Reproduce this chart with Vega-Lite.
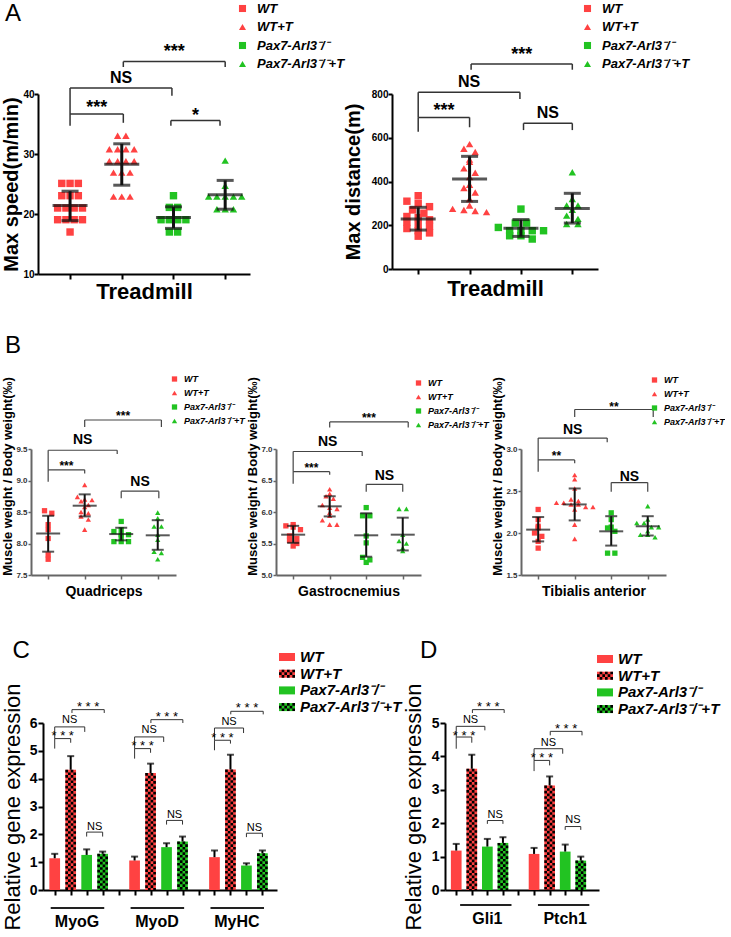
{
"$schema": "https://vega.github.io/schema/vega-lite/v6.json",
"padding": {"left": 1, "top": 2, "right": 0, "bottom": 0},
"background": "white",
"config": {"view": {"stroke": null}, "font": "Liberation Sans",
  "axis": {"grid": false, "domainColor": "#000", "tickColor": "#000", "labelColor": "#000", "titleColor": "#000", "labelFont": "Liberation Sans", "titleFont": "Liberation Sans", "labelOverlap": false},
  "legend": {"labelLimit": 0, "labelColor": "#000", "labelFont": "Liberation Sans"},
  "text": {"font": "Liberation Sans", "color": "#000"}},
"bounds": "flush",
"spacing": 355,
"resolve": {"scale": {"color": "independent", "shape": "independent"}, "legend": {"color": "independent", "shape": "independent"}},
"datasets": {
"a1": [{"grp":"WT","v":25.1},{"grp":"WT","v":25.1},{"grp":"WT","v":25.1},{"grp":"WT","v":23.05},{"grp":"WT","v":23.05},{"grp":"WT","v":23.05},{"grp":"WT","v":21.0},{"grp":"WT","v":21.0},{"grp":"WT","v":21.0},{"grp":"WT","v":21.0},{"grp":"WT","v":19.05},{"grp":"WT","v":19.05},{"grp":"WT","v":19.05},{"grp":"WT","v":19.05},{"grp":"WT","v":17.0},
{"grp":"WTT","v":33.05},{"grp":"WTT","v":33.05},{"grp":"WTT","v":30.8},{"grp":"WTT","v":30.8},{"grp":"WTT","v":30.8},{"grp":"WTT","v":30.8},{"grp":"WTT","v":28.8},{"grp":"WTT","v":28.8},{"grp":"WTT","v":28.8},{"grp":"WTT","v":28.8},{"grp":"WTT","v":26.9},{"grp":"WTT","v":26.9},{"grp":"WTT","v":26.9},{"grp":"WTT","v":22.9},{"grp":"WTT","v":22.9},{"grp":"WTT","v":22.9},
{"grp":"KO","v":23.05},{"grp":"KO","v":21.1},{"grp":"KO","v":21.1},{"grp":"KO","v":19.05},{"grp":"KO","v":19.05},{"grp":"KO","v":19.05},{"grp":"KO","v":19.05},{"grp":"KO","v":17.0},{"grp":"KO","v":17.0},
{"grp":"KOT","v":28.9},{"grp":"KOT","v":24.7},{"grp":"KOT","v":22.9},{"grp":"KOT","v":22.9},{"grp":"KOT","v":22.9},{"grp":"KOT","v":22.9},{"grp":"KOT","v":22.9},{"grp":"KOT","v":20.8},{"grp":"KOT","v":20.8},{"grp":"KOT","v":20.8}],
"a1s": [{"grp":"WT","m":21.4,"lo":18.9,"hi":23.8},{"grp":"WTT","m":28.3,"lo":24.8,"hi":31.7},{"grp":"KO","m":19.4,"lo":17.6,"hi":21.2},{"grp":"KOT","m":23.2,"lo":20.8,"hi":25.6}],
"a1b": [{"x1":1,"x2":2.03,"y":36.67,"yl":34.7,"yr":35.2,"t":"***","ty":38.3},{"x1":1,"x2":2.97,"y":41.0,"yl":36.67,"yr":39.7,"t":"NS","ty":42.6},{"x1":2.03,"x2":4.0,"y":45.4,"yl":44.5,"yr":44.5,"t":"***","ty":47.6},{"x1":2.95,"x2":3.9,"y":35.6,"yl":34.7,"yr":34.7,"t":"*","ty":37.0}],
"a2": [{"grp":"WT","v":335},{"grp":"WT","v":310},{"grp":"WT","v":300},{"grp":"WT","v":285},{"grp":"WT","v":270},{"grp":"WT","v":255},{"grp":"WT","v":240},{"grp":"WT","v":235},{"grp":"WT","v":225},{"grp":"WT","v":215},{"grp":"WT","v":205},{"grp":"WT","v":195},{"grp":"WT","v":185},{"grp":"WT","v":175},{"grp":"WT","v":165},{"grp":"WT","v":150},
{"grp":"WTT","v":571},{"grp":"WTT","v":550},{"grp":"WTT","v":535},{"grp":"WTT","v":500},{"grp":"WTT","v":490},{"grp":"WTT","v":460},{"grp":"WTT","v":440},{"grp":"WTT","v":420},{"grp":"WTT","v":385},{"grp":"WTT","v":370},{"grp":"WTT","v":350},{"grp":"WTT","v":320},{"grp":"WTT","v":290},{"grp":"WTT","v":275},{"grp":"WTT","v":270},{"grp":"WTT","v":265},{"grp":"WTT","v":260},
{"grp":"KO","v":274},{"grp":"KO","v":210},{"grp":"KO","v":210},{"grp":"KO","v":190},{"grp":"KO","v":175},{"grp":"KO","v":175},{"grp":"KO","v":175},{"grp":"KO","v":175},{"grp":"KO","v":152},{"grp":"KO","v":152},{"grp":"KO","v":137},
{"grp":"KOT","v":442},{"grp":"KOT","v":320},{"grp":"KOT","v":290},{"grp":"KOT","v":290},{"grp":"KOT","v":271},{"grp":"KOT","v":244},{"grp":"KOT","v":229},{"grp":"KOT","v":206},{"grp":"KOT","v":206}],
"a2s": [{"grp":"WT","m":229,"lo":178,"hi":282},{"grp":"WTT","m":411,"lo":309,"hi":515},{"grp":"KO","m":186,"lo":149,"hi":226},{"grp":"KOT","m":277,"lo":210,"hi":346}],
"a2b": [{"x1":1,"x2":2.0,"y":693,"yl":628,"yr":648,"t":"***","ty":739},{"x1":1,"x2":2.98,"y":808,"yl":693,"yr":777,"t":"NS","ty":853},{"x1":2.03,"x2":4.0,"y":937,"yl":911,"yr":911,"t":"***","ty":998},{"x1":3.05,"x2":4.0,"y":666,"yl":635,"yr":635,"t":"NS","ty":713}],
"b1": [{"grp":"WT","v":8.52},{"grp":"WT","v":8.48},{"grp":"WT","v":8.30},{"grp":"WT","v":8.22},{"grp":"WT","v":8.08},{"grp":"WT","v":7.82},{"grp":"WT","v":7.75},
{"grp":"WTT","v":8.93},{"grp":"WTT","v":8.74},{"grp":"WTT","v":8.70},{"grp":"WTT","v":8.69},{"grp":"WTT","v":8.67},{"grp":"WTT","v":8.61},{"grp":"WTT","v":8.58},{"grp":"WTT","v":8.50},{"grp":"WTT","v":8.48},{"grp":"WTT","v":8.43},{"grp":"WTT","v":8.38},{"grp":"WTT","v":8.22},
{"grp":"KO","v":8.35},{"grp":"KO","v":8.22},{"grp":"KO","v":8.19},{"grp":"KO","v":8.14},{"grp":"KO","v":8.14},{"grp":"KO","v":8.11},{"grp":"KO","v":8.03},{"grp":"KO","v":8.03},{"grp":"KO","v":8.03},
{"grp":"KOT","v":8.49},{"grp":"KOT","v":8.40},{"grp":"KOT","v":8.27},{"grp":"KOT","v":8.27},{"grp":"KOT","v":8.14},{"grp":"KOT","v":8.06},{"grp":"KOT","v":7.87},{"grp":"KOT","v":7.85},{"grp":"KOT","v":7.75}],
"b1s": [{"grp":"WT","m":8.16,"lo":7.87,"hi":8.44},{"grp":"WTT","m":8.60,"lo":8.43,"hi":8.78},{"grp":"KO","m":8.15,"lo":8.05,"hi":8.25},{"grp":"KOT","m":8.13,"lo":7.90,"hi":8.37}],
"b1b": [{"x1":1,"x2":2,"y":9.17,"yl":8.98,"yr":9.11,"t":"***","ty":9.28},{"x1":1,"x2":2.89,"y":9.48,"yl":9.17,"yr":9.42,"t":"NS","ty":9.64},{"x1":2,"x2":4.1,"y":9.96,"yl":9.85,"yr":9.85,"t":"***","ty":10.07},{"x1":3,"x2":4.03,"y":8.83,"yl":8.72,"yr":8.72,"t":"NS","ty":8.97}],
"b2": [{"grp":"WT","v":5.80},{"grp":"WT","v":5.78},{"grp":"WT","v":5.76},{"grp":"WT","v":5.72},{"grp":"WT","v":5.62},{"grp":"WT","v":5.58},{"grp":"WT","v":5.55},{"grp":"WT","v":5.50},{"grp":"WT","v":5.46},
{"grp":"WTT","v":6.36},{"grp":"WTT","v":6.29},{"grp":"WTT","v":6.25},{"grp":"WTT","v":6.21},{"grp":"WTT","v":6.11},{"grp":"WTT","v":6.07},{"grp":"WTT","v":6.05},{"grp":"WTT","v":5.99},{"grp":"WTT","v":5.94},{"grp":"WTT","v":5.87},{"grp":"WTT","v":5.80},{"grp":"WTT","v":5.80},
{"grp":"KO","v":6.07},{"grp":"KO","v":5.94},{"grp":"KO","v":5.94},{"grp":"KO","v":5.62},{"grp":"KO","v":5.51},{"grp":"KO","v":5.28},{"grp":"KO","v":5.24},{"grp":"KO","v":5.20},
{"grp":"KOT","v":6.05},{"grp":"KOT","v":6.05},{"grp":"KOT","v":5.64},{"grp":"KOT","v":5.54},{"grp":"KOT","v":5.50},{"grp":"KOT","v":5.43},{"grp":"KOT","v":5.38}],
"b2s": [{"grp":"WT","m":5.64,"lo":5.51,"hi":5.78},{"grp":"WTT","m":6.09,"lo":5.93,"hi":6.25},{"grp":"KO","m":5.63,"lo":5.29,"hi":5.98},{"grp":"KOT","m":5.64,"lo":5.39,"hi":5.91}],
"b2b": [{"x1":1,"x2":2,"y":6.64,"yl":6.45,"yr":6.59,"t":"***","ty":6.75},{"x1":1,"x2":2.89,"y":6.96,"yl":6.64,"yr":6.89,"t":"NS","ty":7.11},{"x1":2,"x2":4.15,"y":7.43,"yl":7.34,"yr":7.34,"t":"***","ty":7.54},{"x1":3,"x2":4.0,"y":6.44,"yl":6.32,"yr":6.32,"t":"NS","ty":6.57}],
"b3": [{"grp":"WT","v":2.28},{"grp":"WT","v":2.16},{"grp":"WT","v":2.08},{"grp":"WT","v":2.06},{"grp":"WT","v":2.00},{"grp":"WT","v":1.96},{"grp":"WT","v":1.90},{"grp":"WT","v":1.82},
{"grp":"WTT","v":2.69},{"grp":"WTT","v":2.64},{"grp":"WTT","v":2.53},{"grp":"WTT","v":2.40},{"grp":"WTT","v":2.38},{"grp":"WTT","v":2.36},{"grp":"WTT","v":2.36},{"grp":"WTT","v":2.34},{"grp":"WTT","v":2.34},{"grp":"WTT","v":2.31},{"grp":"WTT","v":2.31},{"grp":"WTT","v":2.28},{"grp":"WTT","v":2.10},{"grp":"WTT","v":1.93},
{"grp":"KO","v":2.24},{"grp":"KO","v":2.16},{"grp":"KO","v":2.07},{"grp":"KO","v":2.06},{"grp":"KO","v":2.02},{"grp":"KO","v":1.76},{"grp":"KO","v":1.76},
{"grp":"KOT","v":2.32},{"grp":"KOT","v":2.16},{"grp":"KOT","v":2.12},{"grp":"KOT","v":2.12},{"grp":"KOT","v":2.07},{"grp":"KOT","v":2.07},{"grp":"KOT","v":2.02},{"grp":"KOT","v":1.98},{"grp":"KOT","v":1.98},{"grp":"KOT","v":1.95}],
"b3s": [{"grp":"WT","m":2.04,"lo":1.90,"hi":2.19},{"grp":"WTT","m":2.34,"lo":2.15,"hi":2.53},{"grp":"KO","m":2.02,"lo":1.85,"hi":2.20},{"grp":"KOT","m":2.08,"lo":1.97,"hi":2.20}],
"b3b": [{"x1":1,"x2":2,"y":2.87,"yl":2.73,"yr":2.83,"t":"**","ty":2.95},{"x1":1,"x2":2.89,"y":3.13,"yl":2.87,"yr":3.08,"t":"NS","ty":3.23},{"x1":2,"x2":4.15,"y":3.47,"yl":3.38,"yr":3.38,"t":"**","ty":3.54},{"x1":3,"x2":4.0,"y":2.60,"yl":2.49,"yr":2.49,"t":"NS","ty":2.67}],
"c": [{"gene":"MyoG","grp":"WT","v":1.14,"e":1.30},{"gene":"MyoG","grp":"WTT","v":4.32,"e":4.81},{"gene":"MyoG","grp":"KO","v":1.26,"e":1.46},{"gene":"MyoG","grp":"KOT","v":1.30,"e":1.38},
{"gene":"MyoD","grp":"WT","v":1.06,"e":1.20},{"gene":"MyoD","grp":"WTT","v":4.20,"e":4.54},{"gene":"MyoD","grp":"KO","v":1.54,"e":1.68},{"gene":"MyoD","grp":"KOT","v":1.74,"e":1.92},
{"gene":"MyHC","grp":"WT","v":1.18,"e":1.42},{"gene":"MyHC","grp":"WTT","v":4.33,"e":4.86},{"gene":"MyHC","grp":"KO","v":0.88,"e":0.96},{"gene":"MyHC","grp":"KOT","v":1.32,"e":1.42}],
"cg": [{"gene":"MyoG"},{"gene":"MyoD"},{"gene":"MyHC"}],
"cb": [{"x1":1,"x2":2,"y":5.44,"yl":5.08,"yr":5.29,"t":"* * *","ty":5.64},{"x1":1,"x2":2.88,"y":5.86,"yl":5.44,"yr":5.68,"t":"NS","ty":6.1},{"x1":2.08,"x2":4.1,"y":6.48,"yl":6.36,"yr":6.36,"t":"* * *","ty":6.7},{"x1":3,"x2":4,"y":2.08,"yl":1.92,"yr":1.92,"t":"NS","ty":2.28},
{"x1":6,"x2":7,"y":5.08,"yl":4.72,"yr":4.93,"t":"* * *","ty":5.28},{"x1":6,"x2":7.82,"y":5.50,"yl":5.08,"yr":5.32,"t":"NS","ty":5.74},{"x1":7.02,"x2":9.02,"y":6.12,"yl":6.0,"yr":6.0,"t":"* * *","ty":6.34},{"x1":8,"x2":9,"y":2.50,"yl":2.35,"yr":2.35,"t":"NS","ty":2.68},
{"x1":11,"x2":12,"y":5.38,"yl":5.02,"yr":5.26,"t":"* * *","ty":5.58},{"x1":11,"x2":12.82,"y":5.82,"yl":5.38,"yr":5.64,"t":"NS","ty":6.04},{"x1":12.02,"x2":14.05,"y":6.42,"yl":6.31,"yr":6.31,"t":"* * *","ty":6.64},{"x1":13,"x2":14,"y":2.04,"yl":1.90,"yr":1.90,"t":"NS","ty":2.23}],
"d": [{"gene":"Gli1","grp":"WT","v":1.18,"e":1.38},{"gene":"Gli1","grp":"WTT","v":3.63,"e":4.05},{"gene":"Gli1","grp":"KO","v":1.30,"e":1.53},{"gene":"Gli1","grp":"KOT","v":1.41,"e":1.58},
{"gene":"Ptch1","grp":"WT","v":1.08,"e":1.26},{"gene":"Ptch1","grp":"WTT","v":3.13,"e":3.40},{"gene":"Ptch1","grp":"KO","v":1.15,"e":1.36},{"gene":"Ptch1","grp":"KOT","v":0.88,"e":1.00}],
"dg": [{"gene":"Gli1"},{"gene":"Ptch1"}],
"db": [{"x1":1,"x2":2,"y":4.58,"yl":4.23,"yr":4.41,"t":"* * *","ty":4.71},{"x1":1,"x2":2.84,"y":4.90,"yl":4.58,"yr":4.78,"t":"NS","ty":5.08},{"x1":2.04,"x2":4.08,"y":5.40,"yl":5.30,"yr":5.30,"t":"* * *","ty":5.58},{"x1":3,"x2":4,"y":2.08,"yl":1.98,"yr":1.98,"t":"NS","ty":2.26},
{"x1":6,"x2":7,"y":3.88,"yl":3.56,"yr":3.73,"t":"* * *","ty":4.03},{"x1":6,"x2":7.84,"y":4.23,"yl":3.88,"yr":4.08,"t":"NS","ty":4.41},{"x1":7.04,"x2":9.08,"y":4.75,"yl":4.63,"yr":4.63,"t":"* * *","ty":4.91},{"x1":8,"x2":9,"y":1.90,"yl":1.80,"yr":1.80,"t":"NS","ty":2.11}]
},
"vconcat": [
{"hconcat": [
 {"width": 219, "height": 180,
  "layer": [
   {"data": {"name": "a1"},
    "transform": [{"calculate": "indexof(['WT','WTT','KO','KOT'], datum.grp) + 1", "as": "g"},{"calculate": "round(datum.v / 1)", "as": "b"},{"window": [{"op": "row_number", "as": "r"},{"op": "count", "as": "n"}], "groupby": ["grp","b"], "frame": [null,null]},{"calculate": "datum.g + (datum.r - (datum.n + 1) / 2) * 0.16", "as": "xp"}],
    "mark": {"type": "point", "filled": true, "size": 55, "opacity": 1},
    "encoding": {
     "x": {"field": "xp", "type": "quantitative", "scale": {"domain": [0.38, 4.48], "range": [7, 219], "nice": false, "zero": false}, "axis": {"values": [1,2,3,4], "tickCount": 20, "labels": false, "title": "Treadmill", "titleFontSize": 22, "titleFontWeight": "bold", "titlePadding": 1, "domainWidth": 2, "tickWidth": 2, "tickSize": 5}},
     "y": {"field": "v", "type": "quantitative", "scale": {"domain": [10, 40], "nice": false, "zero": false}, "axis": {"values": [10,20,30,40], "tickCount": 20, "format": "d", "labelOverlap": false, "offset": -7, "title": "Max speed(m/min)", "titleFontSize": 20, "titleFontWeight": "bold", "titlePadding": 1, "labelFontSize": 10, "labelFontWeight": "bold", "labelPadding": 0, "domainWidth": 2, "tickWidth": 2, "tickSize": 4}},
     "color": {"field": "grp", "type": "nominal", "scale": {"domain": ["WT","WTT","KO","KOT"], "range": ["#ff4242","#ff4242","#22c322","#22c322"]}, "legend": {"title": null, "orient": "none", "legendX": 205, "legendY": -92, "padding": 0, "rowPadding": 4.5, "labelFontSize": 13, "labelFontWeight": "bold", "labelFontStyle": "italic", "labelOffset": 8, "symbolSize": 50, "symbolStrokeWidth": 0, "labelExpr": "{'WT':'WT','WTT':'WT+T','KO':'Pax7-Arl3⁻/⁻','KOT':'Pax7-Arl3⁻/⁻+T'}[datum.label]"}},
     "shape": {"field": "grp", "type": "nominal", "scale": {"domain": ["WT","WTT","KO","KOT"], "range": ["square","triangle-up","square","triangle-up"]}, "legend": {"title": null, "orient": "none", "legendX": 205, "legendY": -92, "padding": 0, "rowPadding": 4.5, "labelFontSize": 13, "labelFontWeight": "bold", "labelFontStyle": "italic", "labelOffset": 8, "symbolSize": 50, "symbolStrokeWidth": 0, "labelExpr": "{'WT':'WT','WTT':'WT+T','KO':'Pax7-Arl3⁻/⁻','KOT':'Pax7-Arl3⁻/⁻+T'}[datum.label]"}}
    }},
   {"data": {"name": "a1s"}, "transform": [{"calculate": "indexof(['WT','WTT','KO','KOT'], datum.grp) + 1", "as": "g"}],
    "mark": {"type": "tick", "orient": "horizontal", "size": 35, "thickness": 3, "color": "#111"},
    "encoding": {"x": {"field": "g", "type": "quantitative"}, "y": {"field": "m", "type": "quantitative"}}},
   {"data": {"name": "a1s"}, "transform": [{"calculate": "indexof(['WT','WTT','KO','KOT'], datum.grp) + 1", "as": "g"},{"fold": ["lo","hi"]}],
    "mark": {"type": "tick", "orient": "horizontal", "size": 17, "thickness": 3, "color": "#111"},
    "encoding": {"x": {"field": "g", "type": "quantitative"}, "y": {"field": "value", "type": "quantitative"}}},
   {"data": {"name": "a1s"}, "transform": [{"calculate": "indexof(['WT','WTT','KO','KOT'], datum.grp) + 1", "as": "g"}],
    "mark": {"type": "rule", "strokeWidth": 3, "color": "#111"},
    "encoding": {"x": {"field": "g", "type": "quantitative"}, "y": {"field": "lo", "type": "quantitative"}, "y2": {"field": "hi"}}},
   {"data": {"name": "a1b"}, "mark": {"type": "rule", "color": "#333", "strokeWidth": 1.5},
    "encoding": {"x": {"field": "x1", "type": "quantitative"}, "x2": {"field": "x2"}, "y": {"field": "y", "type": "quantitative"}}},
   {"data": {"name": "a1b"}, "mark": {"type": "rule", "color": "#333", "strokeWidth": 1.5},
    "encoding": {"x": {"field": "x1", "type": "quantitative"}, "y": {"field": "yl", "type": "quantitative"}, "y2": {"field": "y"}}},
   {"data": {"name": "a1b"}, "mark": {"type": "rule", "color": "#333", "strokeWidth": 1.5},
    "encoding": {"x": {"field": "x2", "type": "quantitative"}, "y": {"field": "yr", "type": "quantitative"}, "y2": {"field": "y"}}},
   {"data": {"name": "a1b"}, "transform": [{"filter": "datum.t != 'NS'"},{"calculate": "(datum.x1 + datum.x2) / 2", "as": "xm"}],
    "mark": {"type": "text", "fontSize": 18, "fontWeight": "bold", "baseline": "middle", "dy": 4},
    "encoding": {"x": {"field": "xm", "type": "quantitative"}, "y": {"field": "ty", "type": "quantitative"}, "text": {"field": "t"}}},
   {"data": {"name": "a1b"}, "transform": [{"filter": "datum.t == 'NS'"},{"calculate": "(datum.x1 + datum.x2) / 2", "as": "xm"}],
    "mark": {"type": "text", "fontSize": 16, "fontWeight": "bold", "baseline": "middle"},
    "encoding": {"x": {"field": "xm", "type": "quantitative"}, "y": {"field": "ty", "type": "quantitative"}, "text": {"field": "t"}}},
   {"data": {"values": [{}]}, "mark": {"type": "text", "text": "A", "fontSize": 24, "align": "left", "baseline": "middle"},
    "encoding": {"x": {"datum": -0.26}, "y": {"datum": 53.3}}}
  ]},
 {"width": 206, "height": 175,
  "layer": [
   {"data": {"name": "a2"},
    "transform": [{"calculate": "indexof(['WT','WTT','KO','KOT'], datum.grp) + 1", "as": "g"},{"calculate": "round(datum.v / 30)", "as": "b"},{"window": [{"op": "row_number", "as": "r"},{"op": "count", "as": "n"}], "groupby": ["grp","b"], "frame": [null,null]},{"calculate": "datum.g + (datum.r - (datum.n + 1) / 2) * 0.22", "as": "xp"}],
    "mark": {"type": "point", "filled": true, "size": 55, "opacity": 1},
    "encoding": {
     "x": {"field": "xp", "type": "quantitative", "scale": {"domain": [0.49, 4.5], "nice": false, "zero": false}, "axis": {"values": [1,2,3,4], "tickCount": 20, "labels": false, "title": "Treadmill", "titleFontSize": 22, "titleFontWeight": "bold", "titlePadding": 3, "domainWidth": 2, "tickWidth": 2, "tickSize": 5}},
     "y": {"field": "v", "type": "quantitative", "scale": {"domain": [0, 800], "nice": false, "zero": false}, "axis": {"values": [0,200,400,600,800], "tickCount": 20, "format": "d", "labelOverlap": false, "title": "Max distance(m)", "titleFontSize": 20, "titleFontWeight": "bold", "titlePadding": 8, "labelFontSize": 10, "labelFontWeight": "bold", "labelPadding": 0, "domainWidth": 2, "tickWidth": 2, "tickSize": 4}},
     "color": {"field": "grp", "type": "nominal", "scale": {"domain": ["WT","WTT","KO","KOT"], "range": ["#ff4242","#ff4242","#22c322","#22c322"]}, "legend": {"title": null, "orient": "none", "legendX": 189, "legendY": -92, "padding": 0, "rowPadding": 4.5, "labelFontSize": 13, "labelFontWeight": "bold", "labelFontStyle": "italic", "labelOffset": 8, "symbolSize": 50, "symbolStrokeWidth": 0, "labelExpr": "{'WT':'WT','WTT':'WT+T','KO':'Pax7-Arl3⁻/⁻','KOT':'Pax7-Arl3⁻/⁻+T'}[datum.label]"}},
     "shape": {"field": "grp", "type": "nominal", "scale": {"domain": ["WT","WTT","KO","KOT"], "range": ["square","triangle-up","square","triangle-up"]}, "legend": {"title": null, "orient": "none", "legendX": 189, "legendY": -92, "padding": 0, "rowPadding": 4.5, "labelFontSize": 13, "labelFontWeight": "bold", "labelFontStyle": "italic", "labelOffset": 8, "symbolSize": 50, "symbolStrokeWidth": 0, "labelExpr": "{'WT':'WT','WTT':'WT+T','KO':'Pax7-Arl3⁻/⁻','KOT':'Pax7-Arl3⁻/⁻+T'}[datum.label]"}}
    }},
   {"data": {"name": "a2s"}, "transform": [{"calculate": "indexof(['WT','WTT','KO','KOT'], datum.grp) + 1", "as": "g"}],
    "mark": {"type": "tick", "orient": "horizontal", "size": 35, "thickness": 3, "color": "#111"},
    "encoding": {"x": {"field": "g", "type": "quantitative"}, "y": {"field": "m", "type": "quantitative"}}},
   {"data": {"name": "a2s"}, "transform": [{"calculate": "indexof(['WT','WTT','KO','KOT'], datum.grp) + 1", "as": "g"},{"fold": ["lo","hi"]}],
    "mark": {"type": "tick", "orient": "horizontal", "size": 17, "thickness": 3, "color": "#111"},
    "encoding": {"x": {"field": "g", "type": "quantitative"}, "y": {"field": "value", "type": "quantitative"}}},
   {"data": {"name": "a2s"}, "transform": [{"calculate": "indexof(['WT','WTT','KO','KOT'], datum.grp) + 1", "as": "g"}],
    "mark": {"type": "rule", "strokeWidth": 3, "color": "#111"},
    "encoding": {"x": {"field": "g", "type": "quantitative"}, "y": {"field": "lo", "type": "quantitative"}, "y2": {"field": "hi"}}},
   {"data": {"name": "a2b"}, "mark": {"type": "rule", "color": "#333", "strokeWidth": 1.5},
    "encoding": {"x": {"field": "x1", "type": "quantitative"}, "x2": {"field": "x2"}, "y": {"field": "y", "type": "quantitative"}}},
   {"data": {"name": "a2b"}, "mark": {"type": "rule", "color": "#333", "strokeWidth": 1.5},
    "encoding": {"x": {"field": "x1", "type": "quantitative"}, "y": {"field": "yl", "type": "quantitative"}, "y2": {"field": "y"}}},
   {"data": {"name": "a2b"}, "mark": {"type": "rule", "color": "#333", "strokeWidth": 1.5},
    "encoding": {"x": {"field": "x2", "type": "quantitative"}, "y": {"field": "yr", "type": "quantitative"}, "y2": {"field": "y"}}},
   {"data": {"name": "a2b"}, "transform": [{"filter": "datum.t != 'NS'"},{"calculate": "(datum.x1 + datum.x2) / 2", "as": "xm"}],
    "mark": {"type": "text", "fontSize": 18, "fontWeight": "bold", "baseline": "middle", "dy": 4},
    "encoding": {"x": {"field": "xm", "type": "quantitative"}, "y": {"field": "ty", "type": "quantitative"}, "text": {"field": "t"}}},
   {"data": {"name": "a2b"}, "transform": [{"filter": "datum.t == 'NS'"},{"calculate": "(datum.x1 + datum.x2) / 2", "as": "xm"}],
    "mark": {"type": "text", "fontSize": 16, "fontWeight": "bold", "baseline": "middle"},
    "encoding": {"x": {"field": "xm", "type": "quantitative"}, "y": {"field": "ty", "type": "quantitative"}, "text": {"field": "t"}}}
  ]}
 ], "spacing": 142, "bounds": "flush",
 "resolve": {"scale": {"color": "independent", "shape": "independent"}, "legend": {"color": "independent", "shape": "independent"}}},
{"vconcat": [
 {"hconcat": [
  {"width": 145, "height": 126,
   "layer": [
    {"data": {"name": "b1"},
     "transform": [{"calculate": "indexof(['WT','WTT','KO','KOT'], datum.grp) + 1", "as": "g"},{"calculate": "round(datum.v / 0.08)", "as": "b"},{"window": [{"op": "row_number", "as": "r"},{"op": "count", "as": "n"}], "groupby": ["grp","b"], "frame": [null,null]},{"calculate": "datum.g + (datum.r - (datum.n + 1) / 2) * 0.2", "as": "xp"}],
     "mark": {"type": "point", "filled": true, "size": 28, "opacity": 1},
     "encoding": {
      "x": {"field": "xp", "type": "quantitative", "scale": {"domain": [0.53, 4.5], "nice": false, "zero": false}, "axis": {"values": [1,2,3,4], "tickCount": 20, "labels": false, "title": "Quadriceps", "titleFontSize": 14, "titleFontWeight": "bold", "titlePadding": 5, "domainColor": "#666", "tickColor": "#666", "domainWidth": 2, "tickWidth": 1.5, "tickSize": 4}},
      "y": {"field": "v", "type": "quantitative", "scale": {"domain": [7.5, 9.5], "nice": false, "zero": false}, "axis": {"values": [7.5,8,8.5,9,9.5], "tickCount": 20, "labelOverlap": false, "format": ".1f", "title": "Muscle weight / Body weight(‰)", "titleFontSize": 13, "titleFontWeight": "bold", "titleY": 27, "titlePadding": 1, "labelFontSize": 8, "labelFontWeight": "bold", "labelColor": "#333", "labelPadding": 1, "domainColor": "#666", "tickColor": "#666", "domainWidth": 2, "tickWidth": 1.5, "tickSize": 3}},
      "color": {"field": "grp", "type": "nominal", "scale": {"domain": ["WT","WTT","KO","KOT"], "range": ["#ff4242","#ff4242","#22c322","#22c322"]}, "legend": {"title": null, "orient": "none", "legendX": 139, "legendY": -74.5, "padding": 0, "rowPadding": 4, "labelFontSize": 9, "labelFontWeight": "bold", "labelFontStyle": "italic", "labelOffset": 5, "symbolSize": 28, "symbolStrokeWidth": 0, "labelExpr": "{'WT':'WT','WTT':'WT+T','KO':'Pax7-Arl3⁻/⁻','KOT':'Pax7-Arl3⁻/⁻+T'}[datum.label]"}},
      "shape": {"field": "grp", "type": "nominal", "scale": {"domain": ["WT","WTT","KO","KOT"], "range": ["square","triangle-up","square","triangle-up"]}, "legend": {"title": null, "orient": "none", "legendX": 139, "legendY": -74.5, "padding": 0, "rowPadding": 4, "labelFontSize": 9, "labelFontWeight": "bold", "labelFontStyle": "italic", "labelOffset": 5, "symbolSize": 28, "symbolStrokeWidth": 0, "labelExpr": "{'WT':'WT','WTT':'WT+T','KO':'Pax7-Arl3⁻/⁻','KOT':'Pax7-Arl3⁻/⁻+T'}[datum.label]"}}
     }},
    {"data": {"name": "b1s"}, "transform": [{"calculate": "indexof(['WT','WTT','KO','KOT'], datum.grp) + 1", "as": "g"}],
     "mark": {"type": "tick", "orient": "horizontal", "size": 24, "thickness": 2, "color": "#111"},
     "encoding": {"x": {"field": "g", "type": "quantitative"}, "y": {"field": "m", "type": "quantitative"}}},
    {"data": {"name": "b1s"}, "transform": [{"calculate": "indexof(['WT','WTT','KO','KOT'], datum.grp) + 1", "as": "g"},{"fold": ["lo","hi"]}],
     "mark": {"type": "tick", "orient": "horizontal", "size": 12, "thickness": 2, "color": "#111"},
     "encoding": {"x": {"field": "g", "type": "quantitative"}, "y": {"field": "value", "type": "quantitative"}}},
    {"data": {"name": "b1s"}, "transform": [{"calculate": "indexof(['WT','WTT','KO','KOT'], datum.grp) + 1", "as": "g"}],
     "mark": {"type": "rule", "strokeWidth": 2, "color": "#111"},
     "encoding": {"x": {"field": "g", "type": "quantitative"}, "y": {"field": "lo", "type": "quantitative"}, "y2": {"field": "hi"}}},
    {"data": {"name": "b1b"}, "mark": {"type": "rule", "color": "#444", "strokeWidth": 1.2},
     "encoding": {"x": {"field": "x1", "type": "quantitative"}, "x2": {"field": "x2"}, "y": {"field": "y", "type": "quantitative"}}},
    {"data": {"name": "b1b"}, "mark": {"type": "rule", "color": "#444", "strokeWidth": 1.2},
     "encoding": {"x": {"field": "x1", "type": "quantitative"}, "y": {"field": "yl", "type": "quantitative"}, "y2": {"field": "y"}}},
    {"data": {"name": "b1b"}, "mark": {"type": "rule", "color": "#444", "strokeWidth": 1.2},
     "encoding": {"x": {"field": "x2", "type": "quantitative"}, "y": {"field": "yr", "type": "quantitative"}, "y2": {"field": "y"}}},
    {"data": {"name": "b1b"}, "transform": [{"filter": "datum.t != 'NS'"},{"calculate": "(datum.x1 + datum.x2) / 2", "as": "xm"}],
     "mark": {"type": "text", "fontSize": 12, "fontWeight": "bold", "baseline": "middle", "dy": 3},
     "encoding": {"x": {"field": "xm", "type": "quantitative"}, "y": {"field": "ty", "type": "quantitative"}, "text": {"field": "t"}}},
    {"data": {"name": "b1b"}, "transform": [{"filter": "datum.t == 'NS'"},{"calculate": "(datum.x1 + datum.x2) / 2", "as": "xm"}],
     "mark": {"type": "text", "fontSize": 14, "fontWeight": "bold", "baseline": "middle"},
     "encoding": {"x": {"field": "xm", "type": "quantitative"}, "y": {"field": "ty", "type": "quantitative"}, "text": {"field": "t"}}},
    {"data": {"values": [{}]}, "mark": {"type": "text", "text": "B", "fontSize": 24, "align": "left", "baseline": "middle"},
     "encoding": {"x": {"datum": -0.18}, "y": {"datum": 11.13}}}
   ]},
  {"width": 145, "height": 126,
   "layer": [
    {"data": {"name": "b2"},
     "transform": [{"calculate": "indexof(['WT','WTT','KO','KOT'], datum.grp) + 1", "as": "g"},{"calculate": "round(datum.v / 0.08)", "as": "b"},{"window": [{"op": "row_number", "as": "r"},{"op": "count", "as": "n"}], "groupby": ["grp","b"], "frame": [null,null]},{"calculate": "datum.g + (datum.r - (datum.n + 1) / 2) * 0.2", "as": "xp"}],
     "mark": {"type": "point", "filled": true, "size": 28, "opacity": 1},
     "encoding": {
      "x": {"field": "xp", "type": "quantitative", "scale": {"domain": [0.53, 4.5], "nice": false, "zero": false}, "axis": {"values": [1,2,3,4], "tickCount": 20, "labels": false, "title": "Gastrocnemius", "titleFontSize": 14, "titleFontWeight": "bold", "titlePadding": 5, "domainColor": "#666", "tickColor": "#666", "domainWidth": 2, "tickWidth": 1.5, "tickSize": 4}},
      "y": {"field": "v", "type": "quantitative", "scale": {"domain": [5.0, 7.0], "nice": false, "zero": false}, "axis": {"values": [5,5.5,6,6.5,7], "tickCount": 20, "labelOverlap": false, "format": ".1f", "title": "Muscle weight / Body weight(‰)", "titleFontSize": 13, "titleFontWeight": "bold", "titleY": 27, "titlePadding": 1, "labelFontSize": 8, "labelFontWeight": "bold", "labelColor": "#333", "labelPadding": 1, "domainColor": "#666", "tickColor": "#666", "domainWidth": 2, "tickWidth": 1.5, "tickSize": 3}},
      "color": {"field": "grp", "type": "nominal", "scale": {"domain": ["WT","WTT","KO","KOT"], "range": ["#ff4242","#ff4242","#22c322","#22c322"]}, "legend": {"title": null, "orient": "none", "legendX": 138, "legendY": -70.5, "padding": 0, "rowPadding": 4, "labelFontSize": 9, "labelFontWeight": "bold", "labelFontStyle": "italic", "labelOffset": 5, "symbolSize": 28, "symbolStrokeWidth": 0, "labelExpr": "{'WT':'WT','WTT':'WT+T','KO':'Pax7-Arl3⁻/⁻','KOT':'Pax7-Arl3⁻/⁻+T'}[datum.label]"}},
      "shape": {"field": "grp", "type": "nominal", "scale": {"domain": ["WT","WTT","KO","KOT"], "range": ["square","triangle-up","square","triangle-up"]}, "legend": {"title": null, "orient": "none", "legendX": 138, "legendY": -70.5, "padding": 0, "rowPadding": 4, "labelFontSize": 9, "labelFontWeight": "bold", "labelFontStyle": "italic", "labelOffset": 5, "symbolSize": 28, "symbolStrokeWidth": 0, "labelExpr": "{'WT':'WT','WTT':'WT+T','KO':'Pax7-Arl3⁻/⁻','KOT':'Pax7-Arl3⁻/⁻+T'}[datum.label]"}}
     }},
    {"data": {"name": "b2s"}, "transform": [{"calculate": "indexof(['WT','WTT','KO','KOT'], datum.grp) + 1", "as": "g"}],
     "mark": {"type": "tick", "orient": "horizontal", "size": 24, "thickness": 2, "color": "#111"},
     "encoding": {"x": {"field": "g", "type": "quantitative"}, "y": {"field": "m", "type": "quantitative"}}},
    {"data": {"name": "b2s"}, "transform": [{"calculate": "indexof(['WT','WTT','KO','KOT'], datum.grp) + 1", "as": "g"},{"fold": ["lo","hi"]}],
     "mark": {"type": "tick", "orient": "horizontal", "size": 12, "thickness": 2, "color": "#111"},
     "encoding": {"x": {"field": "g", "type": "quantitative"}, "y": {"field": "value", "type": "quantitative"}}},
    {"data": {"name": "b2s"}, "transform": [{"calculate": "indexof(['WT','WTT','KO','KOT'], datum.grp) + 1", "as": "g"}],
     "mark": {"type": "rule", "strokeWidth": 2, "color": "#111"},
     "encoding": {"x": {"field": "g", "type": "quantitative"}, "y": {"field": "lo", "type": "quantitative"}, "y2": {"field": "hi"}}},
    {"data": {"name": "b2b"}, "mark": {"type": "rule", "color": "#444", "strokeWidth": 1.2},
     "encoding": {"x": {"field": "x1", "type": "quantitative"}, "x2": {"field": "x2"}, "y": {"field": "y", "type": "quantitative"}}},
    {"data": {"name": "b2b"}, "mark": {"type": "rule", "color": "#444", "strokeWidth": 1.2},
     "encoding": {"x": {"field": "x1", "type": "quantitative"}, "y": {"field": "yl", "type": "quantitative"}, "y2": {"field": "y"}}},
    {"data": {"name": "b2b"}, "mark": {"type": "rule", "color": "#444", "strokeWidth": 1.2},
     "encoding": {"x": {"field": "x2", "type": "quantitative"}, "y": {"field": "yr", "type": "quantitative"}, "y2": {"field": "y"}}},
    {"data": {"name": "b2b"}, "transform": [{"filter": "datum.t != 'NS'"},{"calculate": "(datum.x1 + datum.x2) / 2", "as": "xm"}],
     "mark": {"type": "text", "fontSize": 12, "fontWeight": "bold", "baseline": "middle", "dy": 3},
     "encoding": {"x": {"field": "xm", "type": "quantitative"}, "y": {"field": "ty", "type": "quantitative"}, "text": {"field": "t"}}},
    {"data": {"name": "b2b"}, "transform": [{"filter": "datum.t == 'NS'"},{"calculate": "(datum.x1 + datum.x2) / 2", "as": "xm"}],
     "mark": {"type": "text", "fontSize": 14, "fontWeight": "bold", "baseline": "middle"},
     "encoding": {"x": {"field": "xm", "type": "quantitative"}, "y": {"field": "ty", "type": "quantitative"}, "text": {"field": "t"}}}
   ]},
  {"width": 145, "height": 126,
   "layer": [
    {"data": {"name": "b3"},
     "transform": [{"calculate": "indexof(['WT','WTT','KO','KOT'], datum.grp) + 1", "as": "g"},{"calculate": "round(datum.v / 0.06)", "as": "b"},{"window": [{"op": "row_number", "as": "r"},{"op": "count", "as": "n"}], "groupby": ["grp","b"], "frame": [null,null]},{"calculate": "datum.g + (datum.r - (datum.n + 1) / 2) * 0.2", "as": "xp"}],
     "mark": {"type": "point", "filled": true, "size": 28, "opacity": 1},
     "encoding": {
      "x": {"field": "xp", "type": "quantitative", "scale": {"domain": [0.53, 4.5], "nice": false, "zero": false}, "axis": {"values": [1,2,3,4], "tickCount": 20, "labels": false, "title": "Tibialis anterior", "titleFontSize": 14, "titleFontWeight": "bold", "titlePadding": 5, "domainColor": "#666", "tickColor": "#666", "domainWidth": 2, "tickWidth": 1.5, "tickSize": 4}},
      "y": {"field": "v", "type": "quantitative", "scale": {"domain": [1.5, 3.0], "nice": false, "zero": false}, "axis": {"values": [1.5,2,2.5,3], "tickCount": 20, "labelOverlap": false, "format": ".1f", "title": "Muscle weight / Body weight(‰)", "titleFontSize": 13, "titleFontWeight": "bold", "titleY": 27, "titlePadding": 1, "labelFontSize": 8, "labelFontWeight": "bold", "labelColor": "#333", "labelPadding": 1, "domainColor": "#666", "tickColor": "#666", "domainWidth": 2, "tickWidth": 1.5, "tickSize": 3}},
      "color": {"field": "grp", "type": "nominal", "scale": {"domain": ["WT","WTT","KO","KOT"], "range": ["#ff4242","#ff4242","#22c322","#22c322"]}, "legend": {"title": null, "orient": "none", "legendX": 129, "legendY": -73.5, "padding": 0, "rowPadding": 4, "labelFontSize": 9, "labelFontWeight": "bold", "labelFontStyle": "italic", "labelOffset": 5, "symbolSize": 28, "symbolStrokeWidth": 0, "labelExpr": "{'WT':'WT','WTT':'WT+T','KO':'Pax7-Arl3⁻/⁻','KOT':'Pax7-Arl3⁻/⁻+T'}[datum.label]"}},
      "shape": {"field": "grp", "type": "nominal", "scale": {"domain": ["WT","WTT","KO","KOT"], "range": ["square","triangle-up","square","triangle-up"]}, "legend": {"title": null, "orient": "none", "legendX": 129, "legendY": -73.5, "padding": 0, "rowPadding": 4, "labelFontSize": 9, "labelFontWeight": "bold", "labelFontStyle": "italic", "labelOffset": 5, "symbolSize": 28, "symbolStrokeWidth": 0, "labelExpr": "{'WT':'WT','WTT':'WT+T','KO':'Pax7-Arl3⁻/⁻','KOT':'Pax7-Arl3⁻/⁻+T'}[datum.label]"}}
     }},
    {"data": {"name": "b3s"}, "transform": [{"calculate": "indexof(['WT','WTT','KO','KOT'], datum.grp) + 1", "as": "g"}],
     "mark": {"type": "tick", "orient": "horizontal", "size": 24, "thickness": 2, "color": "#111"},
     "encoding": {"x": {"field": "g", "type": "quantitative"}, "y": {"field": "m", "type": "quantitative"}}},
    {"data": {"name": "b3s"}, "transform": [{"calculate": "indexof(['WT','WTT','KO','KOT'], datum.grp) + 1", "as": "g"},{"fold": ["lo","hi"]}],
     "mark": {"type": "tick", "orient": "horizontal", "size": 12, "thickness": 2, "color": "#111"},
     "encoding": {"x": {"field": "g", "type": "quantitative"}, "y": {"field": "value", "type": "quantitative"}}},
    {"data": {"name": "b3s"}, "transform": [{"calculate": "indexof(['WT','WTT','KO','KOT'], datum.grp) + 1", "as": "g"}],
     "mark": {"type": "rule", "strokeWidth": 2, "color": "#111"},
     "encoding": {"x": {"field": "g", "type": "quantitative"}, "y": {"field": "lo", "type": "quantitative"}, "y2": {"field": "hi"}}},
    {"data": {"name": "b3b"}, "mark": {"type": "rule", "color": "#444", "strokeWidth": 1.2},
     "encoding": {"x": {"field": "x1", "type": "quantitative"}, "x2": {"field": "x2"}, "y": {"field": "y", "type": "quantitative"}}},
    {"data": {"name": "b3b"}, "mark": {"type": "rule", "color": "#444", "strokeWidth": 1.2},
     "encoding": {"x": {"field": "x1", "type": "quantitative"}, "y": {"field": "yl", "type": "quantitative"}, "y2": {"field": "y"}}},
    {"data": {"name": "b3b"}, "mark": {"type": "rule", "color": "#444", "strokeWidth": 1.2},
     "encoding": {"x": {"field": "x2", "type": "quantitative"}, "y": {"field": "yr", "type": "quantitative"}, "y2": {"field": "y"}}},
    {"data": {"name": "b3b"}, "transform": [{"filter": "datum.t != 'NS'"},{"calculate": "(datum.x1 + datum.x2) / 2", "as": "xm"}],
     "mark": {"type": "text", "fontSize": 12, "fontWeight": "bold", "baseline": "middle", "dy": 3},
     "encoding": {"x": {"field": "xm", "type": "quantitative"}, "y": {"field": "ty", "type": "quantitative"}, "text": {"field": "t"}}},
    {"data": {"name": "b3b"}, "transform": [{"filter": "datum.t == 'NS'"},{"calculate": "(datum.x1 + datum.x2) / 2", "as": "xm"}],
     "mark": {"type": "text", "fontSize": 14, "fontWeight": "bold", "baseline": "middle"},
     "encoding": {"x": {"field": "xm", "type": "quantitative"}, "y": {"field": "ty", "type": "quantitative"}, "text": {"field": "t"}}}
   ]}
 ], "spacing": 100, "bounds": "flush",
 "resolve": {"scale": {"color": "independent", "shape": "independent"}, "legend": {"color": "independent", "shape": "independent"}}},
 {"hconcat": [
  {"width": 246, "height": 167,
   "layer": [
    {"data": {"name": "c"}, "transform": [{"calculate": "indexof(['MyoG','MyoD','MyHC'], datum.gene) * 5 + indexof(['WT','WTT','KO','KOT'], datum.grp) + 1", "as": "p"}],
     "mark": {"type": "bar", "size": 10.7, "orient": "vertical"},
     "encoding": {
      "x": {"field": "p", "type": "quantitative", "scale": {"domain": [0.58, 14.6], "range": [12, 246], "nice": false, "zero": false}, "axis": {"values": [1,2,3,4,5,6,7,8,9,10,11,12,13,14], "tickCount": 20, "labels": false, "title": null, "domainWidth": 2, "tickWidth": 2, "tickSize": 5}},
      "y": {"field": "v", "type": "quantitative", "stack": null, "scale": {"domain": [0, 6], "nice": false}, "axis": {"values": [0,1,2,3,4,5,6], "tickCount": 20, "format": "d", "labelOverlap": false, "offset": -12, "title": "Relative gene expression", "titleFontSize": 22, "titleFontWeight": "normal", "titlePadding": 5, "labelFontSize": 14, "labelFontWeight": "bold", "labelPadding": 1, "domainWidth": 2, "tickWidth": 2, "tickSize": 5}},
      "color": {"field": "grp", "type": "nominal", "scale": {"domain": ["WT","WTT","KO","KOT"], "range": ["#ff4242","#ff4242","#22c322","#22c322"]}, "legend": {"title": null, "orient": "none", "legendX": 248, "legendY": -74, "zindex": 1, "padding": 0, "rowPadding": 0.7, "labelFontSize": 15, "labelFontWeight": "bold", "labelFontStyle": "italic", "labelOffset": 5, "symbolType": "M-1,-0.5H1V0.5H-1Z", "symbolSize": 256, "symbolStrokeWidth": 0, "labelExpr": "{'WT':'WT','WTT':'WT+T','KO':'Pax7-Arl3⁻/⁻','KOT':'Pax7-Arl3⁻/⁻+T'}[datum.label]"}}
     }},
    {"data": {"name": "c"}, "transform": [{"filter": "datum.grp == 'WTT' || datum.grp == 'KOT'"},{"calculate": "indexof(['MyoG','MyoD','MyHC'], datum.gene) * 5 + indexof(['WT','WTT','KO','KOT'], datum.grp) + 1", "as": "p"}],
     "mark": {"type": "rule", "color": "#000", "strokeWidth": 2.67, "strokeDash": [2.67, 2.67], "strokeDashOffset": 0, "xOffset": -4},
     "encoding": {"x": {"field": "p", "type": "quantitative"}, "y": {"field": "v", "type": "quantitative"}, "y2": {"datum": 0}}},
    {"data": {"name": "c"}, "transform": [{"filter": "datum.grp == 'WTT' || datum.grp == 'KOT'"},{"calculate": "indexof(['MyoG','MyoD','MyHC'], datum.gene) * 5 + indexof(['WT','WTT','KO','KOT'], datum.grp) + 1", "as": "p"}],
     "mark": {"type": "rule", "color": "#000", "strokeWidth": 2.67, "strokeDash": [2.67, 2.67], "strokeDashOffset": 2.67, "xOffset": -1.33},
     "encoding": {"x": {"field": "p", "type": "quantitative"}, "y": {"field": "v", "type": "quantitative"}, "y2": {"datum": 0}}},
    {"data": {"name": "c"}, "transform": [{"filter": "datum.grp == 'WTT' || datum.grp == 'KOT'"},{"calculate": "indexof(['MyoG','MyoD','MyHC'], datum.gene) * 5 + indexof(['WT','WTT','KO','KOT'], datum.grp) + 1", "as": "p"}],
     "mark": {"type": "rule", "color": "#000", "strokeWidth": 2.67, "strokeDash": [2.67, 2.67], "strokeDashOffset": 0, "xOffset": 1.33},
     "encoding": {"x": {"field": "p", "type": "quantitative"}, "y": {"field": "v", "type": "quantitative"}, "y2": {"datum": 0}}},
    {"data": {"name": "c"}, "transform": [{"filter": "datum.grp == 'WTT' || datum.grp == 'KOT'"},{"calculate": "indexof(['MyoG','MyoD','MyHC'], datum.gene) * 5 + indexof(['WT','WTT','KO','KOT'], datum.grp) + 1", "as": "p"}],
     "mark": {"type": "rule", "color": "#000", "strokeWidth": 2.67, "strokeDash": [2.67, 2.67], "strokeDashOffset": 2.67, "xOffset": 4},
     "encoding": {"x": {"field": "p", "type": "quantitative"}, "y": {"field": "v", "type": "quantitative"}, "y2": {"datum": 0}}},
    {"data": {"name": "c"}, "transform": [{"calculate": "indexof(['MyoG','MyoD','MyHC'], datum.gene) * 5 + indexof(['WT','WTT','KO','KOT'], datum.grp) + 1", "as": "p"},{"calculate": "indexof(['WT','WTT','KO','KOT'], datum.grp)", "as": "k"}],
     "mark": {"type": "point", "filled": true, "opacity": 0, "color": "#000"},
     "encoding": {"x": {"field": "p", "type": "quantitative"}, "y": {"field": "v", "type": "quantitative"},
      "shape": {"field": "k", "type": "nominal", "scale": {"domain": [0,1,2,3], "range": ["M0,0", "M-0.667,-0.5h0.333v0.333h-0.333z M0,-0.5h0.333v0.333h-0.333z M0.667,-0.5h0.333v0.333h-0.333z M-1,-0.167h0.333v0.333h-0.333z M-0.333,-0.167h0.333v0.333h-0.333z M0.333,-0.167h0.333v0.333h-0.333z M-0.667,0.167h0.333v0.333h-0.333z M0,0.167h0.333v0.333h-0.333z M0.667,0.167h0.333v0.333h-0.333z", "M0,0", "M-0.667,-0.5h0.333v0.333h-0.333z M0,-0.5h0.333v0.333h-0.333z M0.667,-0.5h0.333v0.333h-0.333z M-1,-0.167h0.333v0.333h-0.333z M-0.333,-0.167h0.333v0.333h-0.333z M0.333,-0.167h0.333v0.333h-0.333z M-0.667,0.167h0.333v0.333h-0.333z M0,0.167h0.333v0.333h-0.333z M0.667,0.167h0.333v0.333h-0.333z"]},
       "legend": {"title": null, "orient": "none", "legendX": 248, "legendY": -74, "zindex": 2, "padding": 0, "rowPadding": 0.7, "labelFontSize": 15, "labelExpr": "''", "labelOffset": 5, "symbolSize": 256, "symbolOpacity": 1, "symbolFillColor": "#000", "symbolStrokeWidth": 0}}}},
    {"data": {"name": "c"}, "transform": [{"calculate": "indexof(['MyoG','MyoD','MyHC'], datum.gene) * 5 + indexof(['WT','WTT','KO','KOT'], datum.grp) + 1", "as": "p"}],
     "mark": {"type": "rule", "color": "#000", "strokeWidth": 2},
     "encoding": {"x": {"field": "p", "type": "quantitative"}, "y": {"field": "v", "type": "quantitative"}, "y2": {"field": "e"}}},
    {"data": {"name": "c"}, "transform": [{"calculate": "indexof(['MyoG','MyoD','MyHC'], datum.gene) * 5 + indexof(['WT','WTT','KO','KOT'], datum.grp) + 1", "as": "p"}],
     "mark": {"type": "tick", "orient": "horizontal", "size": 7, "thickness": 2, "color": "#000"},
     "encoding": {"x": {"field": "p", "type": "quantitative"}, "y": {"field": "e", "type": "quantitative"}}},
    {"data": {"name": "cb"}, "mark": {"type": "rule", "color": "#333", "strokeWidth": 1},
     "encoding": {"x": {"field": "x1", "type": "quantitative"}, "x2": {"field": "x2"}, "y": {"field": "y", "type": "quantitative"}}},
    {"data": {"name": "cb"}, "mark": {"type": "rule", "color": "#333", "strokeWidth": 1},
     "encoding": {"x": {"field": "x1", "type": "quantitative"}, "y": {"field": "yl", "type": "quantitative"}, "y2": {"field": "y"}}},
    {"data": {"name": "cb"}, "mark": {"type": "rule", "color": "#333", "strokeWidth": 1},
     "encoding": {"x": {"field": "x2", "type": "quantitative"}, "y": {"field": "yr", "type": "quantitative"}, "y2": {"field": "y"}}},
    {"data": {"name": "cb"}, "transform": [{"filter": "datum.t != 'NS'"},{"calculate": "(datum.x1 + datum.x2) / 2", "as": "xm"}],
     "mark": {"type": "text", "fontSize": 13, "baseline": "middle", "dy": 3},
     "encoding": {"x": {"field": "xm", "type": "quantitative"}, "y": {"field": "ty", "type": "quantitative"}, "text": {"field": "t"}}},
    {"data": {"name": "cb"}, "transform": [{"filter": "datum.t == 'NS'"},{"calculate": "(datum.x1 + datum.x2) / 2", "as": "xm"}],
     "mark": {"type": "text", "fontSize": 11, "baseline": "middle"},
     "encoding": {"x": {"field": "xm", "type": "quantitative"}, "y": {"field": "ty", "type": "quantitative"}, "text": {"field": "t"}}},
    {"data": {"name": "cg"}, "transform": [{"calculate": "indexof(['MyoG','MyoD','MyHC'], datum.gene) * 5", "as": "gi"},{"calculate": "datum.gi + 0.75", "as": "u1"},{"calculate": "datum.gi + 4.1", "as": "u2"}],
     "mark": {"type": "rule", "color": "#222", "strokeWidth": 2},
     "encoding": {"x": {"field": "u1", "type": "quantitative"}, "x2": {"field": "u2"}, "y": {"datum": -0.65}}},
    {"data": {"name": "cg"}, "transform": [{"calculate": "indexof(['MyoG','MyoD','MyHC'], datum.gene) * 5 + 2.4", "as": "lx"}],
     "mark": {"type": "text", "fontSize": 16, "fontWeight": "bold", "baseline": "middle"},
     "encoding": {"x": {"field": "lx", "type": "quantitative"}, "y": {"datum": -1.15}, "text": {"field": "gene"}}},
    {"data": {"values": [{}]}, "mark": {"type": "text", "text": "C", "fontSize": 24, "align": "left", "baseline": "middle"},
     "encoding": {"x": {"datum": -1.64}, "y": {"datum": 8.59}}}
   ]},
  {"width": 154, "height": 167,
   "layer": [
    {"data": {"name": "d"}, "transform": [{"calculate": "indexof(['Gli1','Ptch1'], datum.gene) * 5 + indexof(['WT','WTT','KO','KOT'], datum.grp) + 1", "as": "p"}],
     "mark": {"type": "bar", "size": 10.7, "orient": "vertical"},
     "encoding": {
      "x": {"field": "p", "type": "quantitative", "scale": {"domain": [0.6, 9.85], "nice": false, "zero": false}, "axis": {"values": [1,2,3,4,5,6,7,8,9], "tickCount": 20, "labels": false, "title": null, "domainWidth": 2, "tickWidth": 2, "tickSize": 5}},
      "y": {"field": "v", "type": "quantitative", "stack": null, "scale": {"domain": [0, 5], "nice": false}, "axis": {"values": [0,1,2,3,4,5], "tickCount": 20, "format": "d", "labelOverlap": false, "title": "Relative gene expression", "titleFontSize": 22, "titleFontWeight": "normal", "titlePadding": 6, "labelFontSize": 14, "labelFontWeight": "bold", "labelPadding": 1, "domainWidth": 2, "tickWidth": 2, "tickSize": 5}},
      "color": {"field": "grp", "type": "nominal", "scale": {"domain": ["WT","WTT","KO","KOT"], "range": ["#ff4242","#ff4242","#22c322","#22c322"]}, "legend": {"title": null, "orient": "none", "legendX": 152, "legendY": -72, "zindex": 1, "padding": 0, "rowPadding": 0.7, "labelFontSize": 15, "labelFontWeight": "bold", "labelFontStyle": "italic", "labelOffset": 5, "symbolType": "M-1,-0.5H1V0.5H-1Z", "symbolSize": 256, "symbolStrokeWidth": 0, "labelExpr": "{'WT':'WT','WTT':'WT+T','KO':'Pax7-Arl3⁻/⁻','KOT':'Pax7-Arl3⁻/⁻+T'}[datum.label]"}}
     }},
    {"data": {"name": "d"}, "transform": [{"filter": "datum.grp == 'WTT' || datum.grp == 'KOT'"},{"calculate": "indexof(['Gli1','Ptch1'], datum.gene) * 5 + indexof(['WT','WTT','KO','KOT'], datum.grp) + 1", "as": "p"}],
     "mark": {"type": "rule", "color": "#000", "strokeWidth": 2.67, "strokeDash": [2.67, 2.67], "strokeDashOffset": 0, "xOffset": -4},
     "encoding": {"x": {"field": "p", "type": "quantitative"}, "y": {"field": "v", "type": "quantitative"}, "y2": {"datum": 0}}},
    {"data": {"name": "d"}, "transform": [{"filter": "datum.grp == 'WTT' || datum.grp == 'KOT'"},{"calculate": "indexof(['Gli1','Ptch1'], datum.gene) * 5 + indexof(['WT','WTT','KO','KOT'], datum.grp) + 1", "as": "p"}],
     "mark": {"type": "rule", "color": "#000", "strokeWidth": 2.67, "strokeDash": [2.67, 2.67], "strokeDashOffset": 2.67, "xOffset": -1.33},
     "encoding": {"x": {"field": "p", "type": "quantitative"}, "y": {"field": "v", "type": "quantitative"}, "y2": {"datum": 0}}},
    {"data": {"name": "d"}, "transform": [{"filter": "datum.grp == 'WTT' || datum.grp == 'KOT'"},{"calculate": "indexof(['Gli1','Ptch1'], datum.gene) * 5 + indexof(['WT','WTT','KO','KOT'], datum.grp) + 1", "as": "p"}],
     "mark": {"type": "rule", "color": "#000", "strokeWidth": 2.67, "strokeDash": [2.67, 2.67], "strokeDashOffset": 0, "xOffset": 1.33},
     "encoding": {"x": {"field": "p", "type": "quantitative"}, "y": {"field": "v", "type": "quantitative"}, "y2": {"datum": 0}}},
    {"data": {"name": "d"}, "transform": [{"filter": "datum.grp == 'WTT' || datum.grp == 'KOT'"},{"calculate": "indexof(['Gli1','Ptch1'], datum.gene) * 5 + indexof(['WT','WTT','KO','KOT'], datum.grp) + 1", "as": "p"}],
     "mark": {"type": "rule", "color": "#000", "strokeWidth": 2.67, "strokeDash": [2.67, 2.67], "strokeDashOffset": 2.67, "xOffset": 4},
     "encoding": {"x": {"field": "p", "type": "quantitative"}, "y": {"field": "v", "type": "quantitative"}, "y2": {"datum": 0}}},
    {"data": {"name": "d"}, "transform": [{"calculate": "indexof(['Gli1','Ptch1'], datum.gene) * 5 + indexof(['WT','WTT','KO','KOT'], datum.grp) + 1", "as": "p"},{"calculate": "indexof(['WT','WTT','KO','KOT'], datum.grp)", "as": "k"}],
     "mark": {"type": "point", "filled": true, "opacity": 0, "color": "#000"},
     "encoding": {"x": {"field": "p", "type": "quantitative"}, "y": {"field": "v", "type": "quantitative"},
      "shape": {"field": "k", "type": "nominal", "scale": {"domain": [0,1,2,3], "range": ["M0,0", "M-0.667,-0.5h0.333v0.333h-0.333z M0,-0.5h0.333v0.333h-0.333z M0.667,-0.5h0.333v0.333h-0.333z M-1,-0.167h0.333v0.333h-0.333z M-0.333,-0.167h0.333v0.333h-0.333z M0.333,-0.167h0.333v0.333h-0.333z M-0.667,0.167h0.333v0.333h-0.333z M0,0.167h0.333v0.333h-0.333z M0.667,0.167h0.333v0.333h-0.333z", "M0,0", "M-0.667,-0.5h0.333v0.333h-0.333z M0,-0.5h0.333v0.333h-0.333z M0.667,-0.5h0.333v0.333h-0.333z M-1,-0.167h0.333v0.333h-0.333z M-0.333,-0.167h0.333v0.333h-0.333z M0.333,-0.167h0.333v0.333h-0.333z M-0.667,0.167h0.333v0.333h-0.333z M0,0.167h0.333v0.333h-0.333z M0.667,0.167h0.333v0.333h-0.333z"]},
       "legend": {"title": null, "orient": "none", "legendX": 152, "legendY": -72, "zindex": 2, "padding": 0, "rowPadding": 0.7, "labelFontSize": 15, "labelExpr": "''", "labelOffset": 5, "symbolSize": 256, "symbolOpacity": 1, "symbolFillColor": "#000", "symbolStrokeWidth": 0}}}},
    {"data": {"name": "d"}, "transform": [{"calculate": "indexof(['Gli1','Ptch1'], datum.gene) * 5 + indexof(['WT','WTT','KO','KOT'], datum.grp) + 1", "as": "p"}],
     "mark": {"type": "rule", "color": "#000", "strokeWidth": 2},
     "encoding": {"x": {"field": "p", "type": "quantitative"}, "y": {"field": "v", "type": "quantitative"}, "y2": {"field": "e"}}},
    {"data": {"name": "d"}, "transform": [{"calculate": "indexof(['Gli1','Ptch1'], datum.gene) * 5 + indexof(['WT','WTT','KO','KOT'], datum.grp) + 1", "as": "p"}],
     "mark": {"type": "tick", "orient": "horizontal", "size": 7, "thickness": 2, "color": "#000"},
     "encoding": {"x": {"field": "p", "type": "quantitative"}, "y": {"field": "e", "type": "quantitative"}}},
    {"data": {"name": "db"}, "mark": {"type": "rule", "color": "#333", "strokeWidth": 1},
     "encoding": {"x": {"field": "x1", "type": "quantitative"}, "x2": {"field": "x2"}, "y": {"field": "y", "type": "quantitative"}}},
    {"data": {"name": "db"}, "mark": {"type": "rule", "color": "#333", "strokeWidth": 1},
     "encoding": {"x": {"field": "x1", "type": "quantitative"}, "y": {"field": "yl", "type": "quantitative"}, "y2": {"field": "y"}}},
    {"data": {"name": "db"}, "mark": {"type": "rule", "color": "#333", "strokeWidth": 1},
     "encoding": {"x": {"field": "x2", "type": "quantitative"}, "y": {"field": "yr", "type": "quantitative"}, "y2": {"field": "y"}}},
    {"data": {"name": "db"}, "transform": [{"filter": "datum.t != 'NS'"},{"calculate": "(datum.x1 + datum.x2) / 2", "as": "xm"}],
     "mark": {"type": "text", "fontSize": 13, "baseline": "middle", "dy": 3},
     "encoding": {"x": {"field": "xm", "type": "quantitative"}, "y": {"field": "ty", "type": "quantitative"}, "text": {"field": "t"}}},
    {"data": {"name": "db"}, "transform": [{"filter": "datum.t == 'NS'"},{"calculate": "(datum.x1 + datum.x2) / 2", "as": "xm"}],
     "mark": {"type": "text", "fontSize": 11, "baseline": "middle"},
     "encoding": {"x": {"field": "xm", "type": "quantitative"}, "y": {"field": "ty", "type": "quantitative"}, "text": {"field": "t"}}},
    {"data": {"name": "dg"}, "transform": [{"calculate": "indexof(['Gli1','Ptch1'], datum.gene) * 5", "as": "gi"},{"calculate": "datum.gi + 1.25", "as": "u1"},{"calculate": "datum.gi + 4.55", "as": "u2"}],
     "mark": {"type": "rule", "color": "#222", "strokeWidth": 2},
     "encoding": {"x": {"field": "u1", "type": "quantitative"}, "x2": {"field": "u2"}, "y": {"datum": -0.45}}},
    {"data": {"name": "dg"}, "transform": [{"calculate": "indexof(['Gli1','Ptch1'], datum.gene) * 5 + 3.0", "as": "lx"}],
     "mark": {"type": "text", "fontSize": 16, "fontWeight": "bold", "baseline": "middle"},
     "encoding": {"x": {"field": "lx", "type": "quantitative"}, "y": {"datum": -0.87}, "text": {"field": "gene"}}},
    {"data": {"values": [{}]}, "mark": {"type": "text", "text": "D", "fontSize": 24, "align": "left", "baseline": "middle"},
     "encoding": {"x": {"datum": -1.32}, "y": {"datum": 7.16}}}
   ]}
 ], "spacing": 168, "bounds": "flush",
 "resolve": {"scale": {"color": "independent", "shape": "independent"}, "legend": {"color": "independent", "shape": "independent"}}}
], "spacing": 274, "bounds": "flush",
"resolve": {"scale": {"color": "independent", "shape": "independent"}, "legend": {"color": "independent", "shape": "independent"}}}
]
}
